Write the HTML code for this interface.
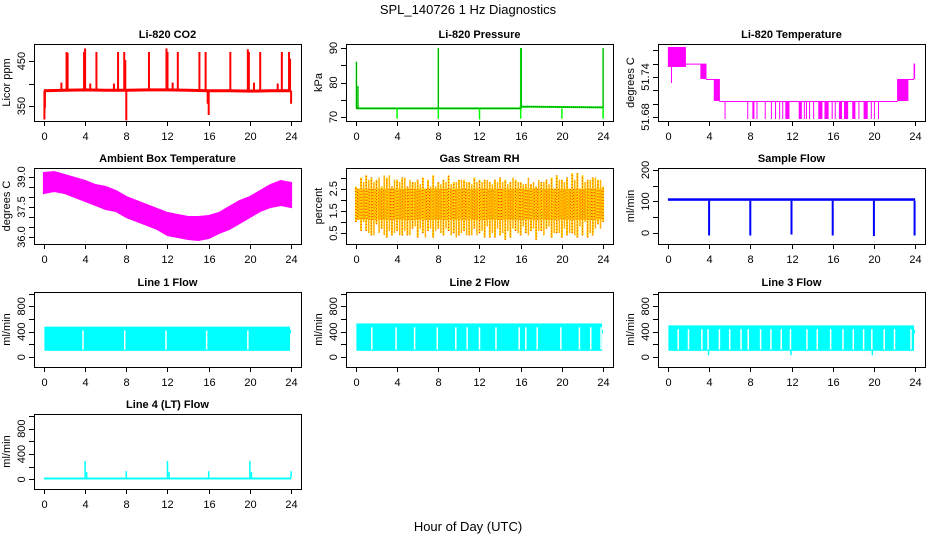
<!DOCTYPE html>
<html><head><meta charset="utf-8"><style>
body{margin:0;background:#fff;}
svg{display:block;font-family:"Liberation Sans",sans-serif;}
</style></head><body>
<svg id="c" width="936" height="540" viewBox="0 0 936 540" xmlns="http://www.w3.org/2000/svg">
<defs>
<pattern id="rhpat" width="3" height="3" patternUnits="userSpaceOnUse"><rect width="3" height="3" fill="#ffd400"/><rect x="0" y="0" width="1" height="1" fill="#ff2000"/><rect x="1.5" y="1.5" width="1" height="1" fill="#ff2000"/></pattern>
</defs>
<text x="468" y="14" text-anchor="middle" font-size="13">SPL_140726  1 Hz Diagnostics</text>
<text x="468" y="531" text-anchor="middle" font-size="13">Hour of Day (UTC)</text>
</svg>
<script>
// ---- data ----
const xTicks=[0,4,8,12,16,20,24];
// CO2
const co2BaseHours=[0,2,4,6,8,10,12,14,16,18,20,22,24];
const co2BaseVals=[384,385,386,385,385,386,386,385,384,384,383,384,384];
const co2SpikeHours=[0.05,0.1,1.7,2.2,2.3,3.9,4.0,4.5,5.1,6.8,7.2,7.8,7.9,8.0,10.2,11.9,12.0,12.5,13.0,15.1,15.7,15.9,16.0,18.1,19.8,19.9,20.4,21.0,22.7,23.1,23.8,23.9,24.0];
const co2SpikeVals=[320,345,402,470,468,470,478,400,470,400,470,470,452,318,470,478,470,402,470,470,470,355,330,470,476,470,402,470,400,470,470,455,355];
// Pressure
const pBaseHours=[0.05,16,16,24];
const pBaseVals=[72.5,72.5,73,72.8];
const pUpHours=[0.05,0.2,8.0,16.0,16.05,24.0];
const pUpVals=[86,79,90,90,90,90];
const pDownHours=[4,8,12,16,20,24];
const pDownVals=[69.5,69.5,69.3,69.5,69.5,69.5];
// Li-820 temperature
const tStart=[0.0,1.7,3.2,3.7,4.5,5.0,22.3,23.3,23.9];
const tEnd=[1.7,3.2,3.7,4.5,5.0,22.3,23.3,23.9,24.0];
const tLo=[51.755,51.760,51.737,51.737,51.704,51.704,51.704,51.737,51.737];
const tHi=[51.785,51.760,51.760,51.737,51.737,51.704,51.737,51.737,51.760];
const tDipStart=[0.3,4.6,5.5,7.7,8.2,8.6,9.4,10.0,10.4,10.8,11.1,11.4,12.7,13.2,13.4,13.7,14.1,14.6,15.2,15.9,16.2,16.6,17.1,17.9,18.5,19.0,19.7,20.0,20.4];
const tDipEnd=[0.3,4.6,5.5,7.7,8.4,8.6,9.4,10.0,10.5,10.8,11.1,11.8,13.0,13.2,13.5,13.8,14.1,15.0,15.6,16.0,16.2,16.9,17.5,18.2,18.5,19.4,19.7,20.0,20.4];
const tDipTop=[51.755,51.737,51.704,51.704,51.704,51.704,51.704,51.704,51.704,51.704,51.704,51.704,51.704,51.704,51.704,51.704,51.704,51.704,51.704,51.704,51.704,51.704,51.704,51.704,51.704,51.704,51.704,51.704,51.704];
const tDipVals=[51.731,51.704,51.677,51.677,51.677,51.677,51.677,51.677,51.677,51.677,51.677,51.677,51.677,51.677,51.677,51.677,51.677,51.677,51.677,51.677,51.677,51.677,51.677,51.677,51.677,51.677,51.677,51.677,51.677];
// Ambient box temperature
const ambHours=[0,1,2,3,4,5,6,7,8,9,10,11,12,13,14,15,16,17,18,19,20,21,22,23,24];
const ambHi=[39.2,39.25,39.1,38.95,38.8,38.6,38.5,38.3,38.0,37.8,37.6,37.4,37.2,37.1,37.0,37.0,37.05,37.2,37.5,37.8,38.0,38.3,38.6,38.8,38.7];
const ambLo=[38.2,38.3,38.2,38.0,37.8,37.6,37.4,37.3,37.0,36.8,36.6,36.4,36.1,36.0,35.9,35.85,35.95,36.2,36.4,36.7,37.0,37.3,37.5,37.6,37.5];
// Gas stream RH (half-hourly extremes)
const rhHi=[2.6,3.0,3.1,3.0,2.9,2.6,3.0,2.6,2.9,3.0,2.6,2.8,2.9,3.0,2.9,3.1,2.8,2.9,3.1,2.8,2.9,2.9,2.8,3.0,2.9,2.9,2.8,2.9,3.0,2.9,2.8,2.9,2.8,2.7,2.7,2.6,2.8,2.9,3.0,3.1,2.9,3.0,3.2,3.2,3.1,2.9,3.0,2.9,2.6];
const rhLo=[1.0,0.6,0.6,0.4,0.9,0.7,0.3,0.4,0.6,0.4,0.4,0.7,0.3,0.5,0.6,0.3,0.7,0.4,0.6,0.5,0.4,0.6,0.4,0.7,0.5,0.3,0.3,0.3,0.4,0.2,0.3,0.6,0.4,0.5,0.6,0.2,0.6,0.7,0.3,0.5,0.3,0.4,0.5,0.3,0.4,0.3,0.4,0.9,1.0];
const rhCore=[1.1,2.5];
// Sample flow
const sfBase=[102,110];
const sfDropHours=[4,8,12,16,20,23.95];
const sfDropVals=[-8,-8,-5,-8,-10,-8];
// Line flows
const l1Band=[100,480];
const l1Gaps=[3.8,7.85,11.85,15.8,19.8];
const l2Band=[100,530];
const l2Gaps=[1.55,3.9,5.7,7.9,9.7,10.8,12.0,13.6,15.85,16.5,17.6,19.9,21.7,22.8,23.8];
const l3Band=[100,500];
const l3Gaps=[1.0,2.0,3.3,3.9,5.0,6.0,7.1,7.8,9.0,10.0,11.0,11.9,13.5,14.5,15.8,17.0,18.0,19.0,19.8,21.0,22.0,23.6];
const l3DipHours=[3.95,11.95,19.85];
const l3DipVals=[30,30,30];
const l4Base=[0,30];
const l4SpikeHours=[4.0,4.15,8.0,12.0,12.15,16.0,20.0,20.15,24.0];
const l4SpikeVals=[290,120,130,290,120,130,290,120,130];

// ---- drawing ----
const svg=document.getElementById('c');
const NS='http://www.w3.org/2000/svg';
function mk(tag,at,parent){const e=document.createElementNS(NS,tag);for(const k in at)e.setAttribute(k,at[k]);(parent||svg).appendChild(e);return e;}
const cols=[34,346,658], rows=[44,168,292,414], rowH=[77,76,75,75];
let clipN=0;
function panel(c,r,ylim,title,ylab,ticks,labels,name){
  const x0=cols[c],y0=rows[r],w=267,h=rowH[r];
  const p={x0,y0,w,h,sx:v=>x0+9.9+v*247.2/24,sy:v=>y0+h-(v-ylim[0])/(ylim[1]-ylim[0])*h};
  const g=mk('g',{});
  
  
  const cp=mk('clipPath',{id:'cp'+clipN},g);mk('rect',{x:x0,y:y0,width:w,height:h},cp);
  p.g=mk('g',{'clip-path':'url(#cp'+clipN+')'},g);clipN++;
  
  
  const t=mk('text',{x:x0+w/2,y:y0-6,'text-anchor':'middle','font-size':11,'font-weight':'bold'},g);t.textContent=title;
  
  
  const fr=mk('rect',{x:x0+0.5,y:y0+0.5,width:w,height:h,fill:'none',stroke:'#000'},g);
  
  
  const xa=mk('g',{},g);
  
  
  xTicks.forEach(v=>{const X=Math.round(p.sx(v))+0.5;mk('line',{x1:X,x2:X,y1:y0+h,y2:y0+h+5,stroke:'#000'},xa);
    const tt=mk('text',{x:X,y:y0+h+19,'text-anchor':'middle','font-size':11},xa);tt.textContent=v;});
  const ya=mk('g',{},g);
  
  
  ticks.forEach(v=>{const Y=Math.round(p.sy(v))+0.5;mk('line',{x1:x0-5,x2:x0,y1:Y,y2:Y,stroke:'#000'},ya);});
  labels.forEach(v=>{const Y=p.sy(parseFloat(v));const tt=mk('text',{x:x0-9,y:Y,'text-anchor':'middle','font-size':11,transform:'rotate(-90 '+(x0-9)+' '+Y+')'},ya);tt.textContent=v;});
  const yl=mk('text',{x:x0-24,y:y0+h/2,'text-anchor':'middle','font-size':11,transform:'rotate(-90 '+(x0-24)+' '+(y0+h/2)+')'},g);yl.textContent=ylab;
  
  
  return p;
}
function vline(p,h,a,b,col,wd,extra){const e=mk('line',Object.assign({x1:p.sx(h),x2:p.sx(h),y1:p.sy(a),y2:p.sy(b),stroke:col,'stroke-width':wd},extra||{}),p.g);return e;}
function poly(p,hs,vs,col,wd,extra){return mk('polyline',Object.assign({points:hs.map((h,i)=>p.sx(h)+','+p.sy(vs[i])).join(' '),fill:'none',stroke:col,'stroke-width':wd},extra||{}),p.g);}
function band(p,h0,h1,lo,hi,col){return mk('rect',{x:p.sx(h0),y:p.sy(hi),width:Math.max(1,p.sx(h1)-p.sx(h0)),height:Math.max(1,p.sy(lo)-p.sy(hi)),fill:col},p.g);}

// CO2
let p=panel(0,0,[316.7,487.8],'Li-820 CO2','Licor ppm',[350,400,450],['350','450'],'co2');
poly(p,co2BaseHours,co2BaseVals,'#ff0000',3);
co2SpikeHours.forEach((h,i)=>{const e=vline(p,h,co2BaseVals[0],co2SpikeVals[i],'#ff0000',2);

});
// Pressure
p=panel(1,0,[68.84,91.16],'Li-820 Pressure','kPa',[70,75,80,85,90],['70','80','90'],'pressure');
poly(p,pBaseHours,pBaseVals,'#00ff00',2);
poly(p,pBaseHours,pBaseVals,'#003000',1,{'stroke-dasharray':'1,1'});
pUpHours.forEach((h,i)=>{const e=vline(p,h,pBaseVals[0],pUpVals[i],'#00ff00',1.5);


vline(p,h,pBaseVals[0],pUpVals[i],'#003000',0.8,{'stroke-dasharray':'1,1'});});
pDownHours.forEach((h,i)=>{const e=vline(p,h,pBaseVals[0],pDownVals[i],'#00ff00',1.5);

});
// Temperature
p=panel(2,0,[51.674,51.7894],'Li-820 Temperature','degrees C',[51.68,51.70,51.72,51.74,51.76,51.78],['51.68','51.74'],'licor-temp');
tStart.forEach((s,i)=>{const e=band(p,s,tEnd[i],tLo[i],tHi[i],'#ff00ff');


if(i>0)vline(p,s,Math.min(tLo[i],tLo[i-1]),Math.max(tHi[i],tHi[i-1]),'#ff00ff',1);});
tDipStart.forEach((s,i)=>{const e=band(p,s,tDipEnd[i],tDipVals[i],tDipTop[i],'#ff00ff');

});
// Ambient
p=panel(0,1,[35.65,39.45],'Ambient Box Temperature','degrees C',[36,36.5,37,37.5,38,38.5,39],['36.0','37.5','39.0'],'ambient-temp');
{const pts=ambHours.map((h,i)=>p.sx(h)+','+p.sy(ambHi[i])).concat(ambHours.slice().reverse().map((h,i)=>p.sx(h)+','+p.sy(ambLo[ambHours.length-1-i])));
const e=mk('polygon',{points:pts.join(' '),fill:'#ff00ff',stroke:'#ff00ff','stroke-width':2},p.g);

}
// RH
p=panel(1,1,[0.01,3.43],'Gas Stream RH','percent',[0.5,1,1.5,2,2.5,3],['0.5','1.5','2.5'],'rh');
{const e=band(p,0,24,rhCore[0],rhCore[1],'url(#rhpat)');

}
rhHi.forEach((v,i)=>{const h=i*0.5;const e=vline(p,h,rhLo[i],v,'#ffd400',2);


vline(p,h,rhLo[i],v,'#ff2000',1,{'stroke-dasharray':'1,2'});
if(i<rhHi.length-1){vline(p,h+0.25,rhLo[rhLo.length-1-i]+0.1,rhHi[rhHi.length-1-i]-0.1,'#ffb000',1.5);}});
// Sample flow
p=panel(2,1,[-35,206],'Sample Flow','ml/min',[0,50,100,150,200],['0','100','200'],'sample-flow');
{const e=band(p,0,24,sfBase[0],sfBase[1],'#0000ff');

}
sfDropHours.forEach((h,i)=>{const e=vline(p,h,sfBase[0],sfDropVals[i],'#0000ff',2);

});
// Line flows
function flow(c,r,title,bandv,gaps,name){
  const q=panel(c,r,[-155,1025],title,'ml/min',[0,200,400,600,800,1000],['0','400','800'],name);
  const e=band(q,0.05,23.9,bandv[0],bandv[1],'#00ffff');
  
  
  gaps.forEach(h=>{const g=vline(q,h,bandv[0]+20,bandv[1]-60,'#ffffff',1.5);
  
  });
  band(q,23.9,24,380,430,'#00ffff');
  return q;
}
flow(0,2,'Line 1 Flow',l1Band,l1Gaps,'line1-flow');
flow(1,2,'Line 2 Flow',l2Band,l2Gaps,'line2-flow');
p=flow(2,2,'Line 3 Flow',l3Band,l3Gaps,'line3-flow');
l3DipHours.forEach((h,i)=>{const e=vline(p,h,l3Band[0],l3DipVals[i],'#00ffff',1.5);

});
p=panel(0,3,[-150,1030],'Line 4 (LT) Flow','ml/min',[0,200,400,600,800,1000],['0','400','800'],'line4-flow');
{const e=band(p,0,24,l4Base[0],l4Base[1],'#00ffff');

}
l4SpikeHours.forEach((h,i)=>{const e=vline(p,h,l4Base[1],l4SpikeVals[i],'#00ffff',1.5);

});
</script>
</body></html>
